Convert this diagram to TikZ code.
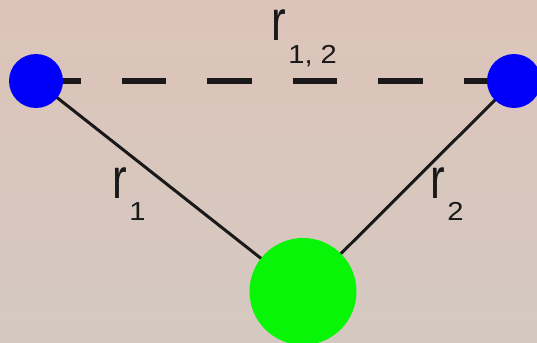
\documentclass[tikz,border=0pt]{standalone}
\usepackage{fontspec}
\setmainfont{Liberation Sans}
\usepackage{graphicx}
\definecolor{bgtop}{RGB}{221,196,185}
\definecolor{bgbot}{RGB}{212,201,193}
\definecolor{ballblue}{RGB}{0,0,250}
\definecolor{ballgreen}{RGB}{8,245,8}
\definecolor{ink}{RGB}{25,25,25}
\pgfdeclarelayer{back}
\pgfdeclarelayer{lines}
\pgfsetlayers{back,lines,main}
\newcommand{\rlab}[1]{\raisebox{0pt}[31pt][0pt]{\scalebox{1}[1.3]{\fontsize{44}{44}\selectfont r}}\kern2.5pt\raisebox{-22.5pt}{\scalebox{1.12}[1]{\fontsize{26}{26}\selectfont #1}}}
\tikzset{
  ball/.style={circle, inner sep=0pt, draw=none},
  lab/.style={anchor=base west, inner sep=0pt, text=ink},
  bond/.style={line width=3pt, ink},
  dbond/.style={line width=6pt, ink, dash pattern=on 44.5pt off 41pt}
}
\begin{document}
\begin{tikzpicture}[x=1pt,y=-1pt]
\useasboundingbox (0,0) rectangle (537,342);
\begin{pgfonlayer}{back}
\shade[top color=bgtop, bottom color=bgbot] (0,0) rectangle (537,342);
\end{pgfonlayer}
\node[ball, fill=ballblue, minimum size=54pt] (b1) at (36,81) {};
\node[ball, fill=ballblue, minimum size=54pt] (b2) at (514,81) {};
\node[ball, fill=ballgreen, minimum size=107pt] (g) at (303,291.5) {};
\begin{pgfonlayer}{lines}
\draw[dbond] (b1.center) -- (b2.center);
\draw[bond] (b1.center) -- (g.center);
\draw[bond] (b2.center) -- (g.center);
\end{pgfonlayer}
\node[lab] (l12) at (271,41) {\rlab{1, 2}};
\node[lab] (l1) at (112,198) {\rlab{1}};
\node[lab] (l2) at (430,198) {\rlab{2}};
\end{tikzpicture}
\end{document}
